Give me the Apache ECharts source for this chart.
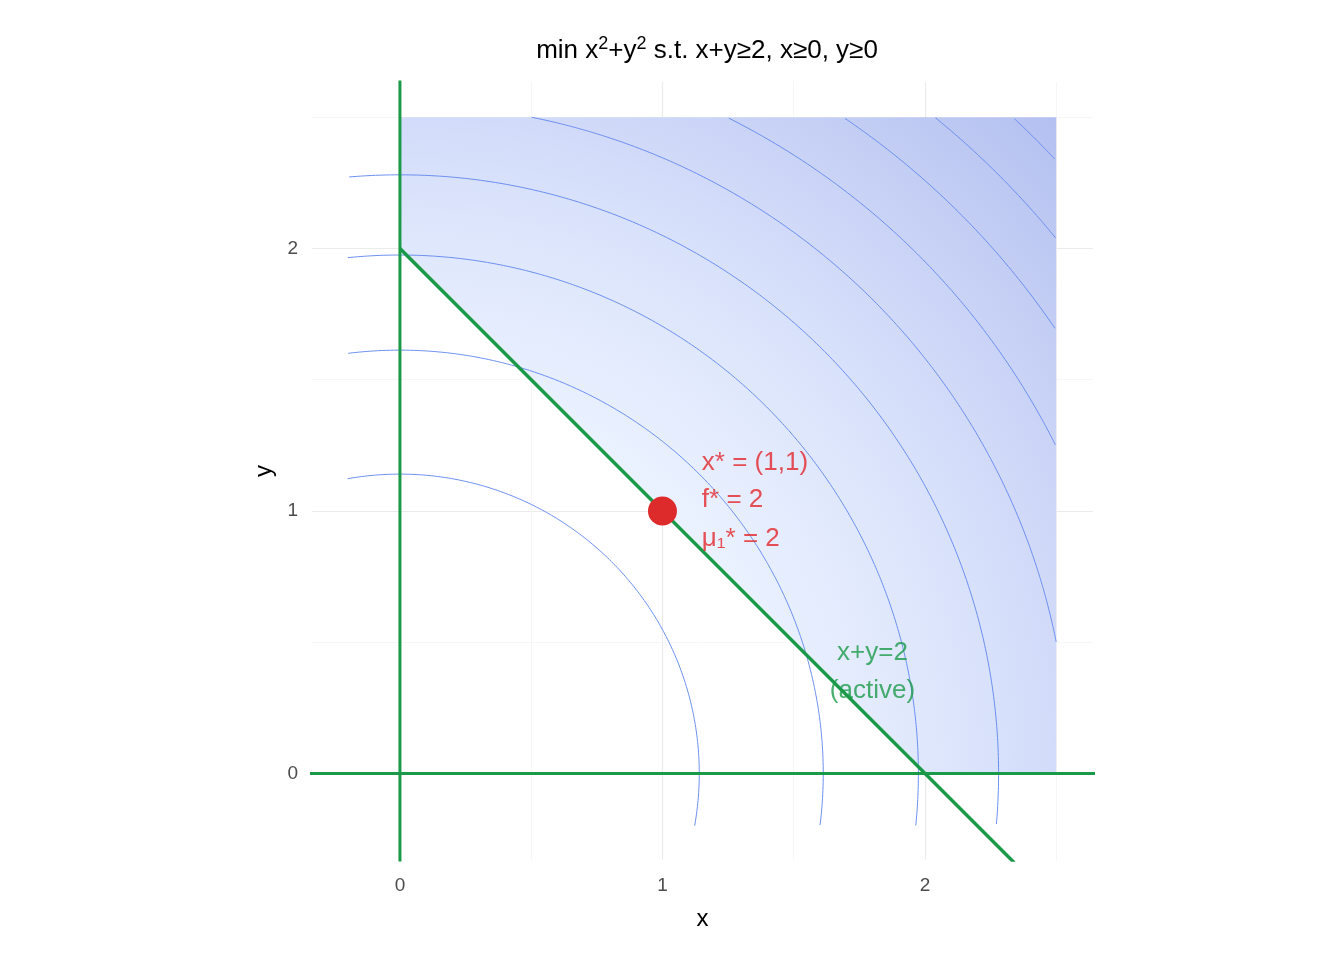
<!DOCTYPE html>
<html><head><meta charset="utf-8">
<script src="https://cdn.jsdelivr.net/npm/echarts@6/dist/echarts.min.js"></script>
<style>html,body{margin:0;background:#fff}#c{width:1344px;height:960px}</style></head>
<body><div id="c"></div>
<script>
const levels = [1.3, 2.6, 3.9, 5.2, 6.5, 7.8, 9.1, 10.4, 11.7];
const feasible = [[0,2],[0,2.5],[2.5,2.5],[2.5,0],[2,0]];
const constraintLine = [[0,2],[2.34,-0.34]];
const optimum = [1,1];
const majorTicks = [0,1,2];
const minorTicks = [0.5,1.5,2.5];
const annot = ['x* = (1,1)','f* = 2','μ₁* = 2'];
const annotY = [1.185,1.044,0.895];
const activeLbl = ['x+y=2','(active)'];
const activeY = [0.461,0.316];

const box = [-0.2, 2.5];
function arc(level){
  const r = Math.sqrt(level), pts=[];
  for(let i=0;i<=1500;i++){
    const t = -Math.PI/2 + i*(2*Math.PI/1500)*0.75;
    const x=r*Math.cos(t), y=r*Math.sin(t);
    if(x>=box[0]&&x<=box[1]&&y>=box[0]&&y<=box[1]) pts.push([x,y]);
  }
  return pts;
}
const FONT = 'Liberation Sans, Arial';
const series = [];
const gridLines = [];
majorTicks.concat(minorTicks).forEach(v=>{
  const maj = majorTicks.includes(v);
  const st = {color: maj?'#ebebeb':'#f4f4f4', width: maj?1.2:0.8, type:'solid'};
  gridLines.push({xAxis:v, lineStyle:st},{yAxis:v, lineStyle:st});
});
series.push({type:'line',data:[],z:0,markLine:{z:0,silent:true,symbol:'none',label:{show:false},data:gridLines}});
series.push({type:'custom',z:1,data:[0],renderItem:(p,api)=>({
  type:'polygon',shape:{points:feasible.map(d=>api.coord(d))},
  style:{fill:{type:'radial',x:0,y:1,r:1.414,colorStops:[{offset:0,color:'#f6faff'},{offset:0.4,color:'#ebf2ff'},{offset:0.6,color:'#dde5fc'},{offset:1,color:'#b4c0f0'}]}}
})});
levels.forEach(l=>series.push({type:'line',z:2,data:arc(l),showSymbol:false,symbol:'none',lineStyle:{color:'#6b8ff0',width:1},silent:true}));
series.push({type:'line',z:3,data:[[0,-1],[0,3]],showSymbol:false,lineStyle:{color:'#1a9a48',width:3}});
series.push({type:'line',z:3,data:[[-1,0],[3,0]],showSymbol:false,lineStyle:{color:'#1a9a48',width:3}});
series.push({type:'line',z:3,data:constraintLine,showSymbol:false,lineStyle:{color:'#1a9a48',width:3.5}});
series.push({type:'scatter',z:4,data:[optimum],symbolSize:29,itemStyle:{color:'#dd2a2a',opacity:1}});
series.push({type:'scatter',z:5,symbolSize:0,data:annot.map((t,i)=>({value:[1.15,annotY[i]],label:{show:true,formatter:t,position:'right',distance:0,color:'#e3262a',fontSize:26,fontFamily:FONT}}))});
series.push({type:'scatter',z:5,symbolSize:0,data:activeLbl.map((t,i)=>({value:[1.80,activeY[i]],label:{show:true,formatter:t,position:'inside',color:'#1a9a48',fontSize:26,fontFamily:FONT}}))});

const chart = echarts.init(document.getElementById('c'));
chart.setOption({
  animation:false,
  title:{text:'min x{s|2}+y{s|2} s.t. x+y≥2, x≥0, y≥0',left:702,textAlign:'center',top:30,
    textStyle:{fontSize:26,fontWeight:'normal',color:'#000',fontFamily:FONT,
      rich:{s:{fontSize:18,verticalAlign:'top',padding:[0,0,14,0],color:'#000'}}}},
  grid:{left:312,right:251,top:82,bottom:100},
  xAxis:{type:'value',min:-0.335,max:2.64,name:'x',nameLocation:'middle',nameGap:47,
    nameTextStyle:{fontSize:24,color:'#000',fontFamily:FONT},
    axisLine:{show:false},axisTick:{show:false},splitLine:{show:false},
    axisLabel:{customValues:majorTicks,fontSize:19,color:'#4d4d4d',margin:16,fontFamily:FONT}},
  yAxis:{type:'value',min:-0.33,max:2.634,name:'y',nameLocation:'middle',nameGap:36,nameRotate:90,
    nameTextStyle:{fontSize:24,color:'#000',fontFamily:FONT},
    axisLine:{show:false},axisTick:{show:false},splitLine:{show:false},
    axisLabel:{customValues:majorTicks,fontSize:19,color:'#4d4d4d',margin:14,fontFamily:FONT}},
  series
});
</script></body></html>
